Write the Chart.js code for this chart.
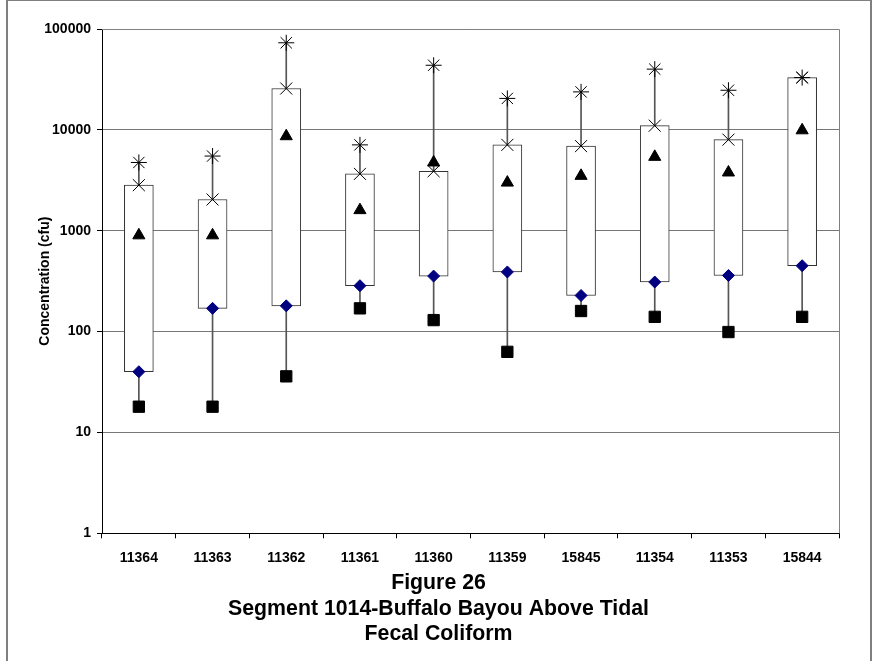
<!DOCTYPE html>
<html>
<head>
<meta charset="utf-8">
<script src="https://cdn.jsdelivr.net/npm/chart.js@4.4.1/dist/chart.umd.min.js"></script>
<style>
  html, body { margin: 0; padding: 0; background: #fff; overflow: hidden; }
  #frame {
    position: absolute; left: 6px; top: -1px; width: 862px; height: 700px;
    border: 2px solid #7f7f7f; pointer-events: none;
  }
  #chart { position: absolute; left: 0; top: 0; }
</style>
</head>
<body>
<div id="frame"></div>
<canvas id="chart" width="877" height="661"></canvas>
<script>
// station ids along the x axis
const stations = ["11364", "11363", "11362", "11361", "11360", "11359", "15845", "11354", "11353", "15844"];

// summary stats per station (cfu)
const minVals = [18, 18, 36, 170, 130, 63, 160, 140, 99, 140];
const q1Vals = [40, 170, 180, 285, 355, 390, 228, 310, 360, 450];
const meanVals = [900, 900, 8650, 1600, 4750, 3000, 3500, 5400, 3780, 9900];
const q3Vals = [2830, 2040, 25700, 3660, 3890, 7100, 6900, 11000, 8000, 33000];
const maxVals = [4750, 5500, 73000, 7100, 43700, 20500, 23800, 40000, 24700, 33000];

const yTicks = [1, 10, 100, 1000, 10000, 100000];
const titleLines = ["Figure 26", "Segment 1014-Buffalo Bayou Above Tidal", "Fecal Coliform"];

const FONT = "'Liberation Sans', Arial, sans-serif";

// gray top/right edge of the plot area (left/bottom are the black axes)
const plotEdge = {
  id: "plotEdge",
  beforeDatasetsDraw(chart) {
    const { ctx, chartArea: a } = chart;
    ctx.save();
    ctx.strokeStyle = "#808080";
    ctx.lineWidth = 1;
    ctx.beginPath();
    ctx.moveTo(a.left, a.top + 0.5);
    ctx.lineTo(a.right + 0.5, a.top + 0.5);
    ctx.lineTo(a.right + 0.5, a.bottom);
    ctx.stroke();
    ctx.restore();
  },
};

function markers(label, data, style, radius, color) {
  return {
    type: "line",
    label,
    data,
    showLine: false,
    pointStyle: style,
    pointRadius: radius,
    pointHoverRadius: radius,
    pointBackgroundColor: color,
    pointBorderColor: color,
    pointBorderWidth: 1,
    order: 0,
  };
}

new Chart(document.getElementById("chart"), {
  type: "bar",
  data: {
    labels: stations,
    datasets: [
      {
        label: "range",
        data: stations.map((s, i) => [minVals[i], maxVals[i]]),
        backgroundColor: "#555",
        barThickness: 1,
        grouped: false,
        order: 3,
      },
      {
        label: "box",
        data: stations.map((s, i) => [q1Vals[i], q3Vals[i]]),
        backgroundColor: "#fff",
        borderColor: "#333",
        borderWidth: 1,
        borderSkipped: false,
        barThickness: 29,
        grouped: false,
        order: 2,
      },
      markers("Min", minVals, "rect", 8, "#000"),
      markers("25th", q1Vals, "rectRot", 6, "#000080"),
      markers("Mean", meanVals, "triangle", 7, "#000"),
      markers("75th", q3Vals, "crossRot", 8.5, "#000"),
      markers("Max", maxVals, "star", 8, "#000"),
    ],
  },
  options: {
    responsive: false,
    animation: false,
    layout: { padding: { left: 38, top: 29, right: 38, bottom: 14 } },
    plugins: {
      legend: { display: false },
      tooltip: { enabled: false },
      title: {
        display: true,
        position: "bottom",
        text: titleLines,
        color: "#000",
        font: { family: FONT, size: 21.3, weight: "bold", lineHeight: 1.2 },
        padding: { top: 0, bottom: 0 },
      },
    },
    scales: {
      x: {
        type: "category",
        offset: true,
        afterFit: (s) => { s.height = 37; },
        grid: { offset: true, drawOnChartArea: false, tickLength: 5, tickColor: "#000" },
        border: { color: "#000" },
        ticks: {
          color: "#000",
          padding: 11,
          maxRotation: 0,
          font: { family: FONT, size: 14, weight: "bold" },
        },
      },
      y: {
        type: "logarithmic",
        min: 1,
        max: 100000,
        afterFit: (s) => { s.width = 64; },
        afterBuildTicks: (s) => { s.ticks = yTicks.map((v) => ({ value: v })); },
        grid: { color: "#777", tickLength: 5, tickColor: "#000" },
        border: { color: "#000" },
        ticks: {
          color: "#000",
          padding: 6,
          font: { family: FONT, size: 14, weight: "bold" },
          callback: (v) => String(v),
        },
        title: {
          display: true,
          text: "Concentration (cfu)",
          color: "#000",
          padding: { top: -1.4, bottom: 0 },
          font: { family: FONT, size: 14, weight: "bold" },
        },
      },
    },
  },
  plugins: [plotEdge],
});
</script>
</body>
</html>
